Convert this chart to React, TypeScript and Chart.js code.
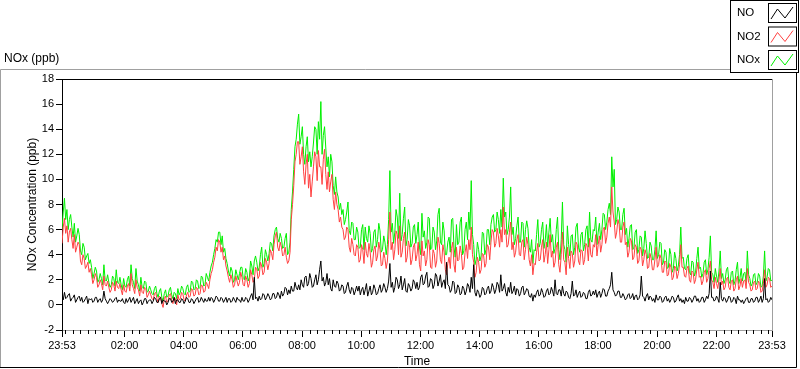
import React, { useEffect, useRef } from 'react';
import { Chart, registerables } from 'chart.js';

Chart.register(...registerables);

// ---- Time axis definition (minutes after 23:53) ----
const START_CLOCK_MIN = 23 * 60 + 53;
const SPAN_MIN = 1440;
const SAMPLE_STEP_MIN = 2.5;
const X_MAJOR_TICKS = [0, 127, 247, 367, 487, 607, 727, 847, 967, 1087, 1207, 1327, 1440];
const X_MAJOR_LABELS = ['23:53', '02:00', '04:00', '06:00', '08:00', '10:00', '12:00', '14:00', '16:00', '18:00', '20:00', '22:00', '23:53'];
const X_MINOR_FIRST = 7; // 00:00
const X_MINOR_STEP = 15;
const Y_MIN = -2;
const Y_MAX = 18;
const Y_STEP = 2;

// ---- Series (ppb), one value every 2.5 minutes from 23:53, one row per hour ----
const NO2 = [
  4.9, 6.2, 6.9, 5.7, 6.3, 5.0, 5.8, 6.1, 5.2, 4.5, 5.6, 4.2, 4.6, 5.0, 4.8, 3.5, 3.2, 4.0, 3.7, 2.9, 3.1, 3.4, 2.6, 2.9,
  2.4, 1.7, 2.0, 2.5, 2.2, 1.4, 1.6, 2.0, 1.7, 1.2, 2.3, 1.6, 1.5, 1.9, 1.4, 1.0, 1.2, 1.8, 1.6, 1.1, 1.9, 1.4, 1.3, 1.7,
  1.2, 0.8, 1.6, 1.1, 1.0, 1.5, 1.7, 1.1, 2.5, 1.6, 1.3, 0.9, 2.0, 1.4, 1.2, 0.7, 1.6, 1.0, 0.9, 1.4, 1.3, 0.6, 0.8, 1.1,
  0.8, 0.5, 0.4, 0.9, 1.0, 0.5, 0.2, 0.7, 0.6, 0.1, -0.2, 0.5, 0.7, 0.2, 0.3, 0.8, 0.9, 0.4, 0.1, 0.6, 0.5, 0.0, 0.8, 0.4,
  0.5, 1.0, 0.9, 0.4, 0.3, 0.8, 1.0, 0.6, 0.7, 1.3, 1.2, 0.7, 0.8, 1.4, 1.3, 0.8, 0.9, 1.6, 1.5, 1.0, 1.1, 1.8, 1.6, 1.3,
  2.0, 2.5, 2.8, 3.4, 3.8, 4.6, 4.3, 5.2, 5.0, 4.2, 4.6, 3.6, 3.9, 3.1, 2.7, 2.2, 1.8, 2.4, 2.0, 1.4, 1.6, 2.3, 1.9, 1.5,
  1.8, 2.6, 2.2, 1.6, 1.5, 2.3, 2.0, 1.4, 1.7, 2.8, 2.4, 1.8, 2.0, 3.0, 2.9, 2.1, 2.3, 3.4, 3.1, 2.4, 2.6, 3.7, 3.4, 2.8,
  3.3, 4.4, 4.1, 3.6, 4.8, 5.5, 5.8, 4.6, 4.3, 5.0, 4.6, 3.9, 4.0, 4.6, 3.8, 3.3, 3.5, 4.2, 6.8, 8.0, 9.5, 11.4, 12.0, 13.0,
  13.0, 11.2, 11.8, 12.6, 10.6, 9.6, 11.2, 12.0, 9.3, 10.4, 8.6, 9.8, 11.0, 12.2, 11.8, 9.9, 12.3, 11.0, 11.0, 9.6, 11.6, 12.4, 10.4, 9.2,
  10.6, 9.0, 9.8, 10.4, 8.4, 7.6, 9.0, 8.0, 7.6, 6.6, 7.0, 6.2, 6.0, 5.2, 5.4, 6.2, 6.0, 4.6, 4.2, 5.3, 4.8, 4.0, 3.9, 4.8,
  4.6, 3.4, 3.6, 4.8, 4.4, 3.3, 5.0, 4.1, 3.8, 4.9, 4.2, 3.0, 3.4, 4.4, 4.7, 3.5, 3.9, 5.0, 4.4, 3.1, 3.2, 4.2, 3.7, 2.9,
  3.5, 5.2, 7.4, 4.4, 5.0, 3.6, 4.4, 5.9, 5.6, 4.0, 6.3, 3.8, 4.2, 5.3, 5.8, 3.4, 3.8, 5.1, 4.6, 3.2, 3.6, 4.6, 4.9, 3.5,
  4.0, 5.0, 3.2, 2.7, 5.1, 3.9, 4.3, 3.1, 3.6, 5.2, 4.8, 3.0, 2.9, 4.4, 4.1, 3.0, 3.5, 5.4, 4.9, 3.6, 3.3, 4.8, 4.2, 2.8,
  2.4, 3.3, 3.8, 2.9, 4.5, 5.0, 3.2, 2.6, 4.6, 3.5, 3.6, 4.7, 4.1, 2.8, 3.0, 4.2, 4.8, 3.7, 5.2, 4.4, 6.2, 4.0, 3.4, 2.2,
  2.6, 3.8, 3.4, 2.5, 2.8, 4.1, 4.0, 3.0, 3.3, 4.8, 4.6, 3.6, 5.0, 6.0, 5.8, 4.6, 4.9, 6.1, 5.5, 4.6, 6.0, 5.0, 7.8, 5.6,
  6.0, 4.6, 4.8, 5.8, 6.6, 4.4, 5.0, 3.8, 4.2, 5.2, 5.6, 4.0, 3.9, 5.0, 5.2, 3.6, 4.4, 5.4, 4.8, 3.6, 3.1, 4.0, 2.4, 3.3,
  3.2, 4.2, 4.9, 3.5, 3.6, 4.6, 5.2, 3.4, 4.0, 5.0, 3.3, 4.4, 5.6, 3.8, 4.3, 3.0, 3.4, 4.6, 5.0, 3.2, 2.6, 4.0, 5.8, 3.6,
  3.4, 2.4, 4.6, 3.7, 2.9, 4.3, 4.1, 3.0, 3.5, 5.0, 4.8, 3.5, 3.2, 4.4, 4.3, 3.2, 3.6, 4.9, 4.7, 3.5, 5.3, 4.0, 3.8, 4.8,
  4.6, 5.6, 3.9, 4.8, 5.5, 4.2, 4.8, 6.0, 6.2, 4.9, 5.4, 6.5, 7.0, 6.2, 9.4, 7.4, 6.6, 5.3, 5.8, 6.8, 6.4, 5.0, 5.0, 6.2,
  6.6, 4.8, 5.0, 3.8, 4.2, 5.3, 5.1, 3.6, 3.8, 4.8, 4.6, 3.3, 3.5, 4.6, 4.4, 3.1, 3.6, 4.4, 4.0, 2.9, 3.0, 4.1, 3.7, 2.8,
  2.8, 3.6, 4.6, 3.0, 3.2, 4.0, 3.7, 2.6, 2.6, 3.5, 3.4, 2.3, 2.4, 3.3, 3.0, 2.0, 2.2, 3.1, 2.9, 2.1, 2.5, 3.2, 4.8, 3.0,
  3.0, 2.3, 2.2, 2.9, 3.1, 2.0, 1.8, 2.7, 2.6, 1.7, 2.0, 2.8, 3.4, 2.2, 2.3, 1.6, 1.9, 2.6, 2.8, 1.8, 2.1, 2.9, 3.5, 2.0,
  1.8, 1.3, 2.2, 1.7, 1.3, 2.0, 2.9, 1.6, 1.9, 1.2, 1.4, 2.1, 2.2, 1.4, 1.2, 1.9, 2.0, 1.1, 1.3, 2.0, 2.3, 1.2, 1.5, 2.1,
  1.4, 1.9, 2.0, 1.3, 2.9, 1.8, 1.6, 1.1, 1.2, 1.8, 1.9, 1.2, 1.3, 1.9, 1.7, 1.0, 1.1, 1.7, 2.8, 1.4, 1.6, 2.2, 2.1, 1.4, 1.5,
];

const NOX = [
  6.0, 7.4, 8.5, 6.8, 7.6, 6.0, 6.8, 7.2, 6.2, 5.4, 6.5, 5.0, 5.5, 6.1, 5.6, 4.3, 4.0, 4.9, 4.6, 3.6, 3.9, 4.1, 3.3, 3.6,
  3.0, 2.1, 2.5, 3.0, 2.7, 1.8, 2.0, 2.5, 2.1, 1.6, 3.2, 2.0, 1.9, 2.4, 1.8, 1.4, 1.6, 2.3, 2.1, 1.5, 2.8, 1.8, 1.7, 2.2,
  1.6, 1.2, 2.1, 1.5, 1.4, 2.0, 2.3, 1.5, 3.2, 2.1, 1.8, 1.3, 2.9, 1.9, 1.6, 1.1, 2.2, 1.4, 1.3, 1.9, 1.8, 1.0, 1.1, 1.5,
  1.2, 0.9, 0.8, 1.3, 1.5, 0.9, 0.6, 1.1, 1.3, 0.6, 0.3, 0.9, 1.2, 0.6, 0.7, 1.2, 1.4, 0.8, 0.5, 1.0, 0.9, 0.5, 1.3, 0.8,
  1.0, 1.5, 1.3, 0.9, 0.8, 1.4, 1.6, 1.0, 1.1, 1.9, 1.8, 1.2, 1.3, 2.0, 1.9, 1.3, 1.4, 2.3, 2.2, 1.5, 1.6, 2.5, 2.2, 1.9,
  2.6, 3.1, 3.4, 4.0, 4.5, 5.2, 5.0, 5.8, 5.8, 4.8, 5.5, 4.2, 4.5, 3.7, 3.3, 2.7, 2.3, 3.0, 2.7, 1.8, 2.0, 2.8, 2.4, 2.0,
  2.5, 3.0, 3.0, 2.1, 2.0, 2.9, 2.6, 1.9, 2.2, 3.5, 3.1, 2.4, 3.5, 3.9, 3.4, 2.7, 3.0, 4.0, 4.6, 3.0, 3.3, 4.4, 4.0, 3.5,
  4.1, 5.0, 4.9, 4.3, 5.5, 6.0, 6.2, 5.3, 5.0, 5.7, 5.3, 4.5, 4.6, 5.3, 5.7, 4.0, 4.2, 5.0, 7.6, 9.0, 10.8, 12.6, 13.2, 14.4,
  15.2, 12.8, 13.4, 14.2, 12.0, 11.2, 12.6, 13.4, 11.4, 12.2, 11.0, 11.8, 12.9, 14.2, 14.0, 12.0, 14.6, 13.2, 16.2, 12.0, 13.5, 14.2, 12.5, 11.0,
  11.8, 10.2, 12.0, 11.4, 9.5, 8.8, 10.2, 9.0, 8.6, 7.6, 8.1, 7.2, 7.6, 6.4, 6.8, 7.4, 8.2, 5.9, 5.6, 6.6, 6.5, 5.2, 5.2, 6.2,
  5.8, 4.5, 4.6, 6.0, 6.4, 4.4, 6.2, 5.3, 5.0, 6.3, 5.7, 4.2, 4.5, 5.8, 6.0, 4.6, 5.2, 6.5, 5.9, 4.2, 4.4, 5.5, 5.0, 4.0,
  4.8, 6.8, 10.7, 5.8, 6.5, 4.9, 5.8, 7.6, 7.0, 5.3, 8.9, 5.1, 5.6, 6.9, 7.8, 4.7, 5.2, 6.8, 6.3, 4.6, 4.9, 6.2, 6.4, 4.9,
  5.6, 6.6, 4.6, 4.0, 7.3, 5.4, 5.9, 4.5, 5.0, 7.0, 6.9, 4.4, 4.5, 6.2, 5.8, 4.4, 5.1, 7.2, 7.7, 5.0, 4.8, 6.6, 5.9, 4.0,
  4.0, 5.0, 5.4, 4.2, 6.8, 6.9, 4.6, 3.8, 6.4, 4.8, 5.0, 6.6, 7.0, 4.0, 4.3, 6.0, 6.6, 5.2, 7.4, 6.0, 9.9, 5.6, 4.8, 3.2,
  3.6, 5.0, 4.4, 3.5, 3.9, 5.8, 5.7, 4.0, 4.4, 6.0, 6.0, 4.8, 6.4, 7.0, 7.2, 5.8, 6.0, 7.4, 6.8, 5.7, 7.6, 6.2, 10.1, 7.0,
  7.4, 5.6, 6.0, 7.0, 9.4, 5.6, 6.2, 4.8, 5.3, 6.3, 7.0, 5.0, 5.0, 6.6, 6.5, 4.6, 6.0, 6.7, 6.1, 4.6, 4.2, 5.2, 3.3, 4.4,
  4.3, 5.6, 6.8, 4.6, 4.9, 6.0, 6.6, 4.5, 5.1, 6.4, 4.6, 5.8, 6.9, 5.0, 5.6, 4.1, 4.5, 6.0, 7.0, 4.4, 3.6, 5.2, 8.2, 4.8,
  4.4, 3.4, 6.3, 4.8, 3.9, 5.5, 5.6, 4.0, 4.6, 6.2, 6.5, 4.6, 4.2, 5.6, 5.8, 4.3, 4.8, 6.0, 6.3, 4.6, 7.4, 5.2, 5.0, 6.0,
  5.9, 7.0, 4.8, 5.8, 6.5, 5.2, 6.0, 7.3, 7.2, 6.0, 6.6, 7.6, 8.1, 7.2, 11.8, 9.4, 10.8, 6.4, 6.8, 7.8, 7.4, 6.0, 6.0, 7.2,
  7.7, 5.6, 6.1, 4.6, 5.3, 6.3, 6.4, 4.4, 4.6, 5.8, 6.0, 4.1, 4.4, 5.5, 5.4, 3.9, 4.5, 5.9, 4.9, 3.7, 3.8, 5.0, 4.7, 3.6,
  3.6, 4.4, 5.9, 3.7, 4.0, 5.0, 4.9, 3.2, 3.4, 4.4, 4.2, 2.9, 3.0, 4.5, 4.0, 2.6, 2.9, 4.2, 3.7, 2.7, 3.1, 4.0, 6.2, 3.7,
  3.8, 2.9, 2.8, 3.7, 4.0, 2.6, 2.4, 3.5, 3.4, 2.3, 2.6, 3.7, 4.6, 2.9, 3.0, 2.2, 2.5, 3.4, 3.6, 2.4, 2.8, 3.8, 5.5, 2.6,
  2.4, 1.8, 2.9, 2.3, 1.8, 2.7, 4.3, 2.1, 2.5, 1.7, 2.0, 2.8, 3.0, 1.9, 1.7, 2.6, 2.7, 1.6, 1.9, 2.8, 3.4, 1.7, 2.1, 2.9,
  1.9, 2.5, 2.6, 1.8, 4.3, 2.4, 2.1, 1.5, 1.7, 2.4, 2.5, 1.6, 1.8, 2.5, 2.3, 1.4, 1.5, 2.3, 4.3, 1.9, 2.2, 2.9, 2.8, 1.9, 2.0,
];

const NO = [
  0.7, 0.4, 1.0, 0.5, 0.6, 0.8, 0.9, 0.3, 0.5, 0.6, 0.8, 0.2, 0.4, 0.6, 0.7, 0.3, 0.6, 0.2, 0.3, 0.5, 0.7, 0.1, 0.5, 0.4,
  0.5, 0.2, 0.3, 0.6, 0.6, 0.2, 0.4, 0.5, 0.2, 0.4, 1.1, 0.5, 0.3, 0.1, 0.3, 0.5, 0.4, 0.2, 0.3, 0.5, 0.6, 0.2, 0.4, 0.3,
  0.3, 0.5, 0.2, 0.1, 0.5, 0.2, 0.4, 0.6, 0.2, 0.4, 0.6, 0.1, 0.3, 0.5, 0.1, 0.3, 0.4, 0.0, 0.2, 0.5, 0.5, 0.1, 0.3, 0.4,
  0.4, 0.1, 0.3, 0.6, 0.5, 0.2, 0.2, 0.5, 0.6, 0.1, 0.4, 0.3, 0.3, 0.0, 0.2, 0.5, 0.5, 0.2, 0.3, 0.6, 0.1, 0.4, 0.4, 0.2,
  0.2, 0.5, 0.4, 0.1, 0.3, 0.6, 0.5, 0.2, 0.2, 0.5, 0.4, 0.1, 0.3, 0.5, 0.6, 0.2, 0.3, 0.6, 0.4, 0.2, 0.5, 0.3, 0.3, 0.6,
  0.3, 0.6, 0.5, 0.2, 0.4, 0.7, 0.6, 0.3, 0.3, 0.6, 0.5, 0.2, 0.4, 0.6, 0.2, 0.5, 0.5, 0.2, 0.3, 0.6, 0.4, 0.2, 0.6, 0.4,
  0.4, 0.2, 0.6, 0.3, 0.3, 0.6, 0.5, 0.2, 0.4, 0.7, 0.9, 0.4, 2.2, 0.5, 0.6, 0.3, 0.7, 0.4, 0.5, 0.9, 0.8, 0.4, 0.6, 0.9,
  0.7, 0.4, 0.5, 0.9, 0.9, 0.5, 0.6, 1.0, 0.8, 0.5, 1.1, 0.7, 0.9, 1.4, 1.3, 0.8, 1.2, 0.9, 1.5, 1.1, 1.1, 1.8, 1.4, 1.2,
  1.6, 1.2, 2.0, 1.6, 1.4, 2.2, 2.3, 1.5, 1.7, 2.5, 2.1, 1.4, 1.5, 2.0, 2.4, 1.6, 2.0, 2.8, 3.5, 1.9, 2.2, 1.5, 1.8, 2.5,
  1.6, 2.1, 1.3, 1.1, 2.0, 1.5, 1.4, 1.9, 1.7, 1.1, 1.2, 1.6, 1.5, 0.9, 1.0, 1.5, 1.8, 1.2, 0.9, 1.4, 1.3, 0.8, 1.1, 1.5,
  1.1, 1.5, 0.8, 1.2, 1.4, 0.8, 1.2, 1.7, 0.7, 1.1, 1.5, 0.8, 1.0, 1.6, 1.3, 0.8, 0.9, 1.3, 1.6, 1.0, 1.2, 1.7, 1.4, 1.0,
  1.3, 1.9, 3.3, 1.4, 1.8, 1.0, 1.4, 2.2, 2.0, 1.3, 1.6, 2.3, 1.2, 1.6, 2.1, 1.1, 1.0, 1.7, 1.5, 1.1, 1.3, 2.0, 1.8, 1.3,
  1.8, 1.2, 1.4, 2.2, 2.4, 1.6, 1.7, 2.3, 2.6, 1.4, 1.5, 2.1, 2.0, 1.3, 1.6, 2.5, 2.3, 1.5, 1.9, 2.4, 1.4, 1.8, 2.0, 1.3,
  3.4, 1.6, 1.5, 1.0, 1.2, 1.9, 1.8, 0.9, 1.0, 1.6, 1.4, 0.8, 0.9, 1.5, 1.3, 0.8, 1.1, 1.7, 1.5, 1.0, 2.2, 1.3, 3.2, 1.0,
  0.7, 1.2, 1.0, 0.6, 0.8, 1.4, 1.3, 0.8, 0.9, 1.3, 1.5, 0.9, 1.1, 1.7, 1.4, 0.9, 1.2, 1.8, 1.6, 1.0, 2.4, 1.1, 1.3, 1.7,
  1.0, 0.7, 1.4, 1.0, 1.8, 0.9, 1.1, 1.5, 0.8, 1.3, 1.2, 0.7, 0.9, 1.4, 1.5, 0.8, 1.0, 1.3, 1.2, 0.7, 0.6, 0.9, 0.3, 0.8,
  0.6, 1.0, 1.2, 0.7, 0.8, 1.3, 1.0, 0.6, 0.7, 1.1, 1.3, 0.8, 0.9, 1.4, 1.1, 0.7, 2.0, 0.9, 0.8, 1.2, 1.2, 0.7, 1.5, 0.9,
  0.7, 1.1, 1.0, 0.6, 0.5, 0.9, 1.9, 0.7, 0.8, 1.2, 0.6, 0.9, 1.1, 0.6, 0.7, 1.0, 0.9, 0.5, 0.5, 1.0, 1.2, 0.7, 0.8, 1.1,
  0.8, 1.2, 0.6, 0.9, 1.1, 0.6, 0.9, 1.3, 1.2, 0.7, 0.7, 1.1, 1.3, 1.6, 2.6, 1.2, 1.0, 0.7, 0.8, 1.1, 1.1, 0.6, 0.6, 0.9,
  0.7, 0.4, 0.5, 0.8, 0.9, 0.5, 0.6, 0.9, 0.4, 0.7, 0.8, 0.4, 0.5, 0.8, 2.3, 0.7, 0.6, 0.3, 0.7, 0.9, 0.4, 0.7, 0.6, 0.3,
  0.5, 0.2, 0.8, 0.4, 0.4, 0.7, 0.6, 0.2, 0.3, 0.6, 0.7, 0.3, 0.5, 0.2, 0.4, 0.7, 0.6, 0.2, 0.3, 0.6, 0.8, 0.3, 0.5, 0.2,
  0.4, 0.1, 0.6, 0.3, 0.3, 0.6, 0.5, 0.2, 0.4, 0.7, 0.7, 0.3, 0.5, 0.2, 0.3, 0.6, 0.6, 0.2, 0.4, 0.7, 0.5, 0.9, 2.7, 0.6,
  0.6, 0.3, 0.4, 0.7, 0.5, 0.2, 1.8, 0.5, 0.3, 0.6, 0.5, 0.2, 0.4, 0.7, 0.6, 0.2, 0.3, 0.6, 0.5, 0.1, 0.7, 0.4, 0.4, 0.2,
  0.4, 0.1, 0.3, 0.5, 0.6, 0.2, 0.2, 0.5, 0.5, 0.2, 0.3, 0.6, 0.6, 0.2, 0.4, 0.7, 0.2, 0.5, 2.1, 0.4, 0.5, 0.2, 0.3, 0.6, 0.4,
];

const SERIES_NAMES = ['NO', 'NO2', 'NOx'];
const SERIES_COLORS = ['#000000', '#ff4040', '#00f000'];

const FONT = 'Liberation Sans';

const toPoints = (vals: number[]) => vals.map((y, i) => ({ x: i * SAMPLE_STEP_MIN, y }));

const framePlugin = {
  id: 'labviewFrame',
  beforeDraw(chart: any) {
    const ctx = chart.ctx as CanvasRenderingContext2D;
    const W = chart.width;
    const H = chart.height;
    ctx.save();
    ctx.fillStyle = '#ffffff';
    ctx.fillRect(0, 0, W, H);
    ctx.lineWidth = 1;
    // outer panel (sunken look)
    ctx.strokeStyle = '#a0a0a0';
    ctx.beginPath();
    ctx.moveTo(0.5, H - 1.5);
    ctx.lineTo(0.5, 69.5);
    ctx.lineTo(730, 69.5);
    ctx.stroke();
    ctx.strokeStyle = '#000000';
    ctx.beginPath();
    ctx.moveTo(0, H - 1.5);
    ctx.lineTo(796.5, H - 1.5);
    ctx.lineTo(796.5, 72);
    ctx.stroke();
    // top-left caption
    ctx.fillStyle = '#000000';
    ctx.font = `12px "${FONT}"`;
    ctx.textBaseline = 'middle';
    ctx.textAlign = 'left';
    ctx.fillText('NOx (ppb)', 4, 58.5);
    ctx.restore();
  },
  afterDraw(chart: any) {
    const ctx = chart.ctx as CanvasRenderingContext2D;
    const { left, right, top, bottom } = chart.chartArea;
    const xs = chart.scales.x;
    ctx.save();
    ctx.lineWidth = 1;
    // plot area top (black) and right (grey) edges
    ctx.strokeStyle = '#000000';
    ctx.beginPath();
    ctx.moveTo(left, Math.round(top) + 0.5);
    ctx.lineTo(right, Math.round(top) + 0.5);
    ctx.stroke();
    ctx.strokeStyle = '#a0a0a0';
    ctx.beginPath();
    ctx.moveTo(Math.round(right) + 0.5, top);
    ctx.lineTo(Math.round(right) + 0.5, bottom);
    ctx.stroke();
    // minor time ticks every 15 minutes
    ctx.strokeStyle = '#000000';
    ctx.beginPath();
    for (let t = X_MINOR_FIRST; t < SPAN_MIN; t += X_MINOR_STEP) {
      if (X_MAJOR_TICKS.includes(t)) continue;
      const px = Math.round(xs.getPixelForValue(t)) + 0.5;
      ctx.moveTo(px, Math.round(bottom));
      ctx.lineTo(px, Math.round(bottom) + 4);
    }
    ctx.stroke();

    // legend
    const lx = 730.5;
    ctx.fillStyle = '#ffffff';
    ctx.fillRect(lx, 0, 799 - lx, 72);
    ctx.strokeStyle = '#000000';
    ctx.strokeRect(lx, 0.5, 798.5 - lx, 72);
    ctx.font = `11.5px "${FONT}"`;
    ctx.textBaseline = 'middle';
    ctx.textAlign = 'left';
    SERIES_NAMES.forEach((name, i) => {
      const oy = i * 23.5;
      ctx.fillStyle = '#000000';
      ctx.fillText(name, 737, 13 + oy);
      ctx.fillStyle = '#ffffff';
      ctx.fillRect(768.5, 3.5 + oy, 28, 19);
      ctx.strokeStyle = '#000000';
      ctx.strokeRect(768.5, 3.5 + oy, 28, 19);
      ctx.strokeStyle = SERIES_COLORS[i];
      ctx.beginPath();
      ctx.moveTo(771, 19 + oy);
      ctx.lineTo(777.5, 9 + oy);
      ctx.lineTo(785, 18 + oy);
      ctx.lineTo(793, 7 + oy);
      ctx.stroke();
    });
    ctx.restore();
  },
};

const clockLabel = (value: number) => {
  const idx = X_MAJOR_TICKS.indexOf(value);
  if (idx >= 0) return X_MAJOR_LABELS[idx];
  const m = (START_CLOCK_MIN + value) % 1440;
  return `${String(Math.floor(m / 60)).padStart(2, '0')}:${String(m % 60).padStart(2, '0')}`;
};

export default function App() {
  const canvasRef = useRef<HTMLCanvasElement | null>(null);

  useEffect(() => {
    if (!canvasRef.current) return;
    const series = [NO, NO2, NOX];
    const chart = new Chart(canvasRef.current, {
      type: 'line',
      data: {
        datasets: series.map((vals, i) => ({
          label: SERIES_NAMES[i],
          data: toPoints(vals),
          borderColor: SERIES_COLORS[i],
          backgroundColor: SERIES_COLORS[i],
          borderWidth: 1,
          pointRadius: 0,
          tension: 0,
          borderJoinStyle: 'round' as const,
          fill: false,
        })),
      },
      options: {
        responsive: false,
        animation: false,
        devicePixelRatio: 1,
        layout: { padding: { left: 0, right: 28, top: 79, bottom: 0 } },
        plugins: {
          legend: { display: false },
          tooltip: { enabled: false },
        },
        scales: {
          x: {
            type: 'linear',
            min: 0,
            max: SPAN_MIN,
            afterBuildTicks: (scale: any) => {
              scale.ticks = X_MAJOR_TICKS.map((v) => ({ value: v }));
            },
            afterFit: (scale: any) => {
              scale.height = 39;
            },
            ticks: {
              autoSkip: false,
              maxRotation: 0,
              padding: 2,
              color: '#000000',
              font: { family: FONT, size: 11 },
              callback: (v: any) => clockLabel(Number(v)),
            },
            grid: { drawOnChartArea: false, tickLength: 7, tickColor: '#000000' },
            border: { color: '#a0a0a0' },
            title: {
              display: true,
              text: 'Time',
              color: '#000000',
              font: { family: FONT, size: 12, lineHeight: 1.2 },
              padding: { top: 0, bottom: 0 },
            },
          },
          y: {
            type: 'linear',
            min: Y_MIN,
            max: Y_MAX,
            afterFit: (scale: any) => {
              scale.width = 62;
            },
            ticks: {
              stepSize: Y_STEP,
              padding: 2,
              color: '#000000',
              font: { family: FONT, size: 11 },
            },
            grid: { drawOnChartArea: false, tickLength: 6, tickColor: '#000000' },
            border: { color: '#000000' },
            title: {
              display: true,
              text: 'NOx Concentration (ppb)',
              color: '#000000',
              font: { family: FONT, size: 12, lineHeight: 1.2 },
              padding: { top: 25, bottom: 0 },
            },
          },
        },
      },
      plugins: [framePlugin],
    } as any);
    return () => chart.destroy();
  }, []);

  return (
    <div style={{ position: 'fixed', left: 0, top: 0, width: 800, height: 369, background: '#fff' }}>
      <canvas ref={canvasRef} width={800} height={369} style={{ display: 'block', width: 800, height: 369 }} />
    </div>
  );
}
